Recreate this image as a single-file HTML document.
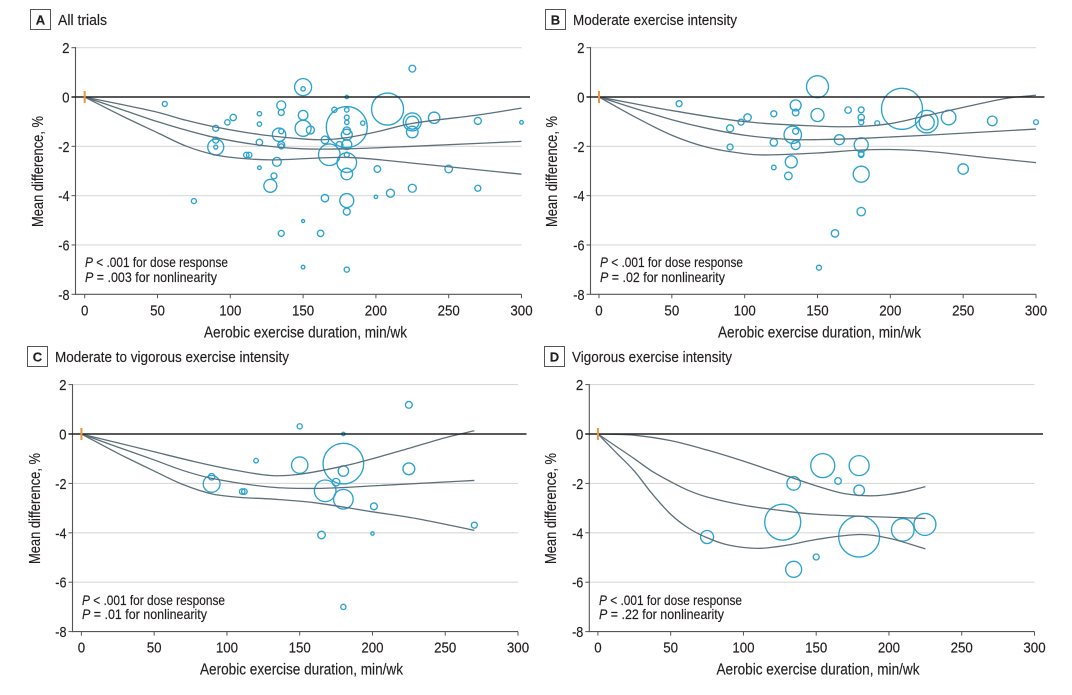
<!DOCTYPE html>
<html lang="en">
<head>
<meta charset="utf-8">
<title>Aerobic exercise duration and mean difference</title>
<style>
html,body{margin:0;padding:0;background:#fff;width:1072px;height:695px;overflow:hidden}
svg{display:block}
text{font-family:"Liberation Sans",sans-serif;fill:#231f20;stroke:#231f20;stroke-width:.15}
.ttl{font-size:15px}
.tick{font-size:15px}
.axt{font-size:15.5px}
.note{font-size:14px}
.letter{font-size:13px;font-weight:700}
</style>
</head>
<body>
<svg id="figure" xmlns="http://www.w3.org/2000/svg" width="1072" height="695" viewBox="0 0 1072 695">
  <rect x="0" y="0" width="1072" height="695" fill="#fff"/>

  <g id="panel-a">
    <rect x="30.5" y="9.5" width="20" height="20" fill="#fff" stroke="#555" stroke-width="1"/>
    <text class="letter" x="40.5" y="24.5" text-anchor="middle">A</text>
    <text class="ttl" x="58" y="25" textLength="49" lengthAdjust="spacingAndGlyphs">All trials</text>
    <text class="note" x="85" y="267" textLength="143" lengthAdjust="spacingAndGlyphs"><tspan font-style="italic">P</tspan> &lt; .001 for dose response</text>
    <text class="note" x="85" y="282" textLength="132" lengthAdjust="spacingAndGlyphs"><tspan font-style="italic">P</tspan> = .003 for nonlinearity</text>
  </g>

  <g id="panel-b">
    <rect x="545.5" y="9.5" width="20" height="20" fill="#fff" stroke="#555" stroke-width="1"/>
    <text class="letter" x="555.5" y="24.5" text-anchor="middle">B</text>
    <text class="ttl" x="573" y="25" textLength="164" lengthAdjust="spacingAndGlyphs">Moderate exercise intensity</text>
    <text class="note" x="600" y="267" textLength="143" lengthAdjust="spacingAndGlyphs"><tspan font-style="italic">P</tspan> &lt; .001 for dose response</text>
    <text class="note" x="600" y="282" textLength="125" lengthAdjust="spacingAndGlyphs"><tspan font-style="italic">P</tspan> = .02 for nonlinearity</text>
  </g>

  <g id="panel-c">
    <rect x="27.5" y="346.5" width="20" height="20" fill="#fff" stroke="#555" stroke-width="1"/>
    <text class="letter" x="37.5" y="361.5" text-anchor="middle">C</text>
    <text class="ttl" x="55" y="362" textLength="234" lengthAdjust="spacingAndGlyphs">Moderate to vigorous exercise intensity</text>
    <text class="note" x="82" y="605" textLength="143" lengthAdjust="spacingAndGlyphs"><tspan font-style="italic">P</tspan> &lt; .001 for dose response</text>
    <text class="note" x="82" y="619" textLength="125" lengthAdjust="spacingAndGlyphs"><tspan font-style="italic">P</tspan> = .01 for nonlinearity</text>
  </g>

  <g id="panel-d">
    <rect x="544.5" y="346.5" width="20" height="20" fill="#fff" stroke="#555" stroke-width="1"/>
    <text class="letter" x="554.5" y="361.5" text-anchor="middle">D</text>
    <text class="ttl" x="572" y="362" textLength="160" lengthAdjust="spacingAndGlyphs">Vigorous exercise intensity</text>
    <text class="note" x="599" y="605" textLength="143" lengthAdjust="spacingAndGlyphs"><tspan font-style="italic">P</tspan> &lt; .001 for dose response</text>
    <text class="note" x="599" y="619" textLength="125" lengthAdjust="spacingAndGlyphs"><tspan font-style="italic">P</tspan> = .22 for nonlinearity</text>
  </g>
</svg>

<script>
// Shared axis data
const xTickValues = [0, 50, 100, 150, 200, 250, 300];
const yTickValues = [2, 0, -2, -4, -6, -8];
const xAxisLabel = "Aerobic exercise duration, min/wk";
const yAxisLabel = "Mean difference, %";

// Panel A: trials
const aDuration = [55,75,90,90,90,90,98,102,111,113,120,120,120,120,130,127.5,132,133.5,135,135,135,135,135,135,150,150,150,150,150,150,155,162,165,165,168,171.5,175,180,180,180,180,180,180,180,180,180,180,180,180,180,180,191,200,201,208,210,225,225,225,225,225,240,250,270,270,300];
const aDifference = [-0.28,-4.22,-1.27,-1.75,-2.03,-2.03,-1.03,-0.83,-2.35,-2.35,-0.68,-1.1,-1.84,-2.87,-3.2,-3.6,-2.63,-1.53,-0.34,-0.63,-1.39,-1.95,-2,-5.53,0.4,0.33,-0.74,-1.27,-5.03,-6.9,-1.34,-5.53,-4.1,-1.74,-2.34,-0.52,-1.95,0,-0.52,-0.83,-1.03,-1.22,-1.37,-1.53,-1.93,-2.34,-2.66,-3.12,-4.2,-4.65,-7,-1.06,-4.05,-2.92,-0.49,-3.9,1.15,-1.01,-1.04,-1.42,-3.7,-0.84,-2.92,-0.97,-3.7,-1.03];
const aWeight = [2.5,2.5,3,3,8,2,2.7,3.2,2.7,2.7,2.2,2.2,3.2,1.8,3,6.5,4.4,6.7,4.5,3,2.5,3.5,2.5,3,8.5,2.2,4.8,8,1.5,1.8,4,3.2,3.7,3.8,10.8,2.6,3.5,1.7,2.3,2.4,2.2,20.5,3.8,5.5,5,2.5,9.8,5.8,7,3.5,2.6,2.2,1.7,3.3,16,4,3.4,9,6.5,5.8,4,5.7,3.8,3.5,3,1.8];
// Panel A: fitted curves
const aUpperDuration = [0,25,50,70,90,120,150,165,180,200,225,270,300];
const aUpperDifference = [0,-0.3,-0.62,-0.95,-1.22,-1.52,-1.7,-1.73,-1.65,-1.42,-1.07,-0.73,-0.45];
const aMiddleDuration = [0,25,50,70,90,120,150,180,225,300];
const aMiddleDifference = [0,-0.5,-1.0,-1.35,-1.65,-1.95,-2.1,-2.1,-2.0,-1.8];
const aLowerDuration = [0,25,50,70,90,110,130,180,225,270,300];
const aLowerDifference = [0,-0.75,-1.45,-2.0,-2.35,-2.5,-2.55,-2.45,-2.68,-2.95,-3.13];

// Panel B: trials
const bDuration = [55,90,90,97.5,102,120,120,120,130,132,133,135,135,135,135,150,150,151,162,165,171,180,180,180,180,180,180,180,180,191,208,225,225,240,250,270,300];
const bDifference = [-0.27,-1.27,-2.03,-1.02,-0.83,-0.68,-1.84,-2.86,-3.2,-2.63,-1.53,-0.34,-0.63,-1.39,-1.95,0.42,-0.73,-6.92,-5.53,-1.73,-0.53,-0.52,-0.83,-1.02,-1.94,-2.3,-2.34,-3.13,-4.65,-1.06,-0.48,-1.0,-1.03,-0.83,-2.92,-0.97,-1.02];
const bWeight = [3,3.5,3,3,3.7,3,3.7,2.3,3.8,6,8.7,5.5,3.3,3,4.5,11,6.5,2.5,3.7,5,3.2,2.9,3.2,2.6,7,2.8,2.7,8,4.2,2.4,20.5,11.3,7.5,7.3,5.2,4.8,2.4];
// Panel B: fitted curves
const bUpperDuration = [0,25,50,100,150,175,200,225,250,280,300];
const bUpperDifference = [0,-0.28,-0.55,-1.0,-1.18,-1.2,-1.08,-0.75,-0.42,-0.05,0.07];
const bMiddleDuration = [0,25,50,75,100,130,150,180,225,300];
const bMiddleDifference = [0,-0.47,-0.92,-1.28,-1.55,-1.72,-1.73,-1.68,-1.55,-1.3];
const bLowerDuration = [0,25,50,75,100,115,150,180,200,225,270,300];
const bLowerDifference = [0,-0.82,-1.55,-2.05,-2.3,-2.35,-2.27,-2.15,-2.13,-2.2,-2.48,-2.66];

// Panel C: trials
const cDuration = [89.5,89.5,110.5,112,120,150,150,165,167.5,175,180,180,180,180,180,200,201,225,225,270];
const cDifference = [-1.73,-2.02,-2.33,-2.33,-1.08,0.31,-1.26,-4.09,-2.3,-1.95,0,-1.2,-1.5,-2.64,-7,-4.03,-2.93,1.18,-1.41,-3.69];
const cWeight = [3.2,8.4,2.8,2.8,2.3,2.6,8.2,3.8,10.8,3.8,1.7,20.3,5.2,9.8,2.6,1.7,3.4,3.4,5.9,3];
// Panel C: fitted curves
const cUpperDuration = [0,25,50,75,100,130,150,180,200,225,250,270];
const cUpperDifference = [0,-0.36,-0.72,-1.08,-1.4,-1.68,-1.63,-1.3,-1.0,-0.58,-0.15,0.13];
const cMiddleDuration = [0,25,50,70,90,130,165,200,270];
const cMiddleDifference = [0,-0.53,-1.05,-1.48,-1.8,-2.15,-2.2,-2.1,-1.88];
const cLowerDuration = [0,25,50,70,90,110,130,160,200,230,270];
const cLowerDifference = [0,-0.78,-1.5,-2.05,-2.43,-2.57,-2.63,-2.78,-3.15,-3.42,-3.9];

// Panel D: trials
const dDuration = [75,127,134.5,134.5,150,154.5,165,179.5,179.5,179.5,209.5,224.7];
const dDifference = [-4.17,-3.57,-2,-5.48,-4.98,-1.28,-1.9,-1.28,-2.28,-4.15,-3.88,-3.66];
const dWeight = [6.5,18,6.8,8,3,12,3.3,10,5.3,20.5,11.3,11];
// Panel D: fitted curves
const dUpperDuration = [0,25,50,75,100,130,150,170,190,210,225];
const dUpperDifference = [0,-0.05,-0.27,-0.65,-1.1,-1.7,-2.1,-2.42,-2.5,-2.35,-2.13];
const dMiddleDuration = [0,12,25,37,50,62,75,100,130,150,180,225];
const dMiddleDifference = [0,-0.48,-1.0,-1.5,-1.93,-2.28,-2.55,-2.88,-3.13,-3.25,-3.33,-3.42];
const dLowerDuration = [0,12,25,37,50,62,75,90,110,130,150,180,200,225];
const dLowerDifference = [0,-0.72,-1.5,-2.4,-3.25,-3.8,-4.2,-4.5,-4.63,-4.5,-4.27,-4.07,-4.22,-4.65];

const SVG_NS = "http://www.w3.org/2000/svg";

function make(parent, tag, attrs) {
  const node = document.createElementNS(SVG_NS, tag);
  Object.keys(attrs).forEach(function (k) { node.setAttribute(k, attrs[k]); });
  parent.appendChild(node);
  return node;
}

function smoothPath(xs, ys, sx, sy) {
  const p = xs.map(function (v, i) { return [sx(v), sy(ys[i])]; });
  let d = "M" + p[0][0].toFixed(2) + " " + p[0][1].toFixed(2);
  for (let i = 0; i < p.length - 1; i++) {
    const a = p[Math.max(i - 1, 0)], b = p[i], c = p[i + 1], e = p[Math.min(i + 2, p.length - 1)];
    const h = c[0] - b[0];
    const m1 = (c[1] - a[1]) / (c[0] - a[0]);
    const m2 = (e[1] - b[1]) / (e[0] - b[0]);
    const c1x = b[0] + h / 3, c1y = b[1] + m1 * h / 3;
    const c2x = c[0] - h / 3, c2y = c[1] - m2 * h / 3;
    d += "C" + c1x.toFixed(2) + " " + c1y.toFixed(2) + " " + c2x.toFixed(2) + " " + c2y.toFixed(2) + " " + c[0].toFixed(2) + " " + c[1].toFixed(2);
  }
  return d;
}

function labelWidth(v) {
  const s = String(v);
  return s.replace("-", "").length * 7.4 + (v < 0 ? 3.8 : 0);
}

function drawPanel(cfg) {
  const host = document.getElementById(cfg.id);
  const anchor = host.querySelector(".note");
  const plot = document.createElementNS(SVG_NS, "g");
  
  
  host.insertBefore(plot, anchor);

  const sx = function (v) { return cfg.x0 + (v / 300) * (cfg.x300 - cfg.x0); };
  const sy = function (v) { return cfg.yZero - v * cfg.unit; };
  const bottom = sy(-8);
  const radius = function (w) { return w; };

  yTickValues.forEach(function (t) {
    if (t === 0 || t === -8) return;
    const grid = make(plot, "line", { x1: cfg.axisX, x2: sx(300), y1: sy(t), y2: sy(t), stroke: "#d9d9d9", "stroke-width": 1.1 });
    
    
  });

  const yAxis = make(plot, "line", { x1: cfg.axisX, x2: cfg.axisX, y1: sy(2) - 0.5, y2: bottom + 0.5, stroke: "#555", "stroke-width": 1.1 });
  
  
  const xAxis = make(plot, "line", { x1: cfg.axisX, x2: sx(300), y1: bottom, y2: bottom, stroke: "#555", "stroke-width": 1.1 });
  
  

  yTickValues.forEach(function (t) {
    const tick = make(plot, "line", { x1: cfg.axisX - 4, x2: cfg.axisX, y1: sy(t), y2: sy(t), stroke: "#555", "stroke-width": 1 });
    
    
    const label = make(plot, "text", { x: cfg.axisX - 6, y: sy(t) + 5.5, "text-anchor": "end", textLength: labelWidth(t), lengthAdjust: "spacingAndGlyphs", "class": "tick" });
    
    
    label.textContent = String(t);
  });

  xTickValues.forEach(function (t) {
    const tick = make(plot, "line", { x1: sx(t), x2: sx(t), y1: bottom, y2: bottom + 4, stroke: "#555", "stroke-width": 1 });
    
    
    const label = make(plot, "text", { x: sx(t), y: bottom + 21, "text-anchor": "middle", textLength: labelWidth(t), lengthAdjust: "spacingAndGlyphs", "class": "tick" });
    
    
    label.textContent = String(t);
  });

  const xTitle = make(plot, "text", { x: cfg.xTitleX, y: bottom + 43, textLength: 203, lengthAdjust: "spacingAndGlyphs", "class": "axt" });
  
  
  xTitle.textContent = xAxisLabel;

  const yTitleY = cfg.yZero + 130;
  const yTitle = make(plot, "text", { x: 0, y: 0, transform: "translate(" + cfg.yTitleX + " " + yTitleY + ") rotate(-90)", textLength: 111, lengthAdjust: "spacingAndGlyphs", "class": "axt" });
  
  
  yTitle.textContent = yAxisLabel;

  cfg.duration.forEach(function (d, i) {
    const bubble = make(plot, "circle", { cx: sx(d), cy: sy(cfg.difference[i]), r: radius(cfg.weight[i]), fill: "none", stroke: "#2ba3cf", "stroke-width": 1.35 });
    
    
  });

  cfg.curves.forEach(function (c) {
    const curve = make(plot, "path", { d: smoothPath(c.xs, c.ys, sx, sy), fill: "none", stroke: "#5d7079", "stroke-width": 1.3 });
    
    
  });

  const zero = make(plot, "line", { x1: cfg.axisX - 4, x2: sx(300) + 8.5, y1: sy(0), y2: sy(0), stroke: "#222", "stroke-width": 1.4 });
  
  

  const marker = make(plot, "line", { x1: sx(0), x2: sx(0), y1: sy(0) - 6, y2: sy(0) + 6, stroke: "#e8963f", "stroke-width": 2 });
  
  
}

drawPanel({
  id: "panel-a", x0: 84.7, x300: 521.5, axisX: 75.5, yZero: 97, unit: 24.66, xTitleX: 204, yTitleX: 43,
  duration: aDuration, difference: aDifference, weight: aWeight,
  curves: [
    { name: "upper-confidence-curve", xs: aUpperDuration, ys: aUpperDifference },
    { name: "dose-response-curve", xs: aMiddleDuration, ys: aMiddleDifference },
    { name: "lower-confidence-curve", xs: aLowerDuration, ys: aLowerDifference }
  ]
});
drawPanel({
  id: "panel-b", x0: 599, x300: 1036, axisX: 590.5, yZero: 97, unit: 24.66, xTitleX: 718, yTitleX: 557,
  duration: bDuration, difference: bDifference, weight: bWeight,
  curves: [
    { name: "upper-confidence-curve", xs: bUpperDuration, ys: bUpperDifference },
    { name: "dose-response-curve", xs: bMiddleDuration, ys: bMiddleDifference },
    { name: "lower-confidence-curve", xs: bLowerDuration, ys: bLowerDifference }
  ]
});
drawPanel({
  id: "panel-c", x0: 81.4, x300: 518, axisX: 72.5, yZero: 434, unit: 24.7, xTitleX: 200, yTitleX: 40,
  duration: cDuration, difference: cDifference, weight: cWeight,
  curves: [
    { name: "upper-confidence-curve", xs: cUpperDuration, ys: cUpperDifference },
    { name: "dose-response-curve", xs: cMiddleDuration, ys: cMiddleDifference },
    { name: "lower-confidence-curve", xs: cLowerDuration, ys: cLowerDifference }
  ]
});
drawPanel({
  id: "panel-d", x0: 597.9, x300: 1034.5, axisX: 589.3, yZero: 434, unit: 24.7, xTitleX: 716.5, yTitleX: 556,
  duration: dDuration, difference: dDifference, weight: dWeight,
  curves: [
    { name: "upper-confidence-curve", xs: dUpperDuration, ys: dUpperDifference },
    { name: "dose-response-curve", xs: dMiddleDuration, ys: dMiddleDifference },
    { name: "lower-confidence-curve", xs: dLowerDuration, ys: dLowerDifference }
  ]
});
</script>
</body>
</html>
